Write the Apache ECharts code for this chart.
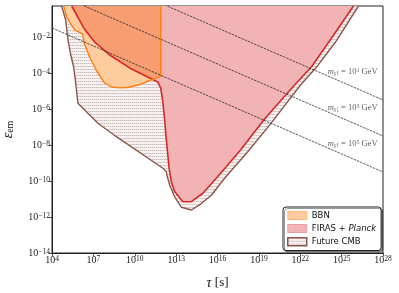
<!DOCTYPE html>
<html><head><meta charset="utf-8">
<script src="https://cdn.jsdelivr.net/npm/echarts@6/dist/echarts.min.js"></script>
<style>html,body{margin:0;padding:0;background:#fff}#c{width:399px;height:293px}</style>
</head><body><div id="c"></div>
<script>
// Values are log10(tau / s) and log10(epsilon_em)
const xTickExps = [4, 7, 10, 13, 16, 19, 22, 25, 28];
const yTickExps = [-14, -12, -10, -8, -6, -4, -2];

const cmbBoundary = [
  [4.70,-0.28],[4.99,-1.06],[5.16,-2.17],[5.33,-2.89],[5.57,-3.67],[5.72,-4.56],[5.88,-5.68],[5.96,-5.78],
  [7.33,-6.79],[8.67,-7.54],[12.04,-9.29],[12.29,-9.48],[12.33,-9.67],[12.53,-10.22],[12.89,-10.87],
  [13.38,-11.46],[14.10,-11.61],[14.70,-11.33],[15.57,-10.78],[16.59,-9.78],[18.18,-8.39],[19.85,-6.83],
  [22.02,-4.67],[23.25,-3.61],[24.56,-2.28],[26.22,-0.28]
];
const firasBoundary = [
  [5.43,-0.28],[5.79,-0.78],[6.30,-1.50],[7.09,-2.28],[8.18,-3.00],[9.63,-3.72],[11.08,-4.28],[11.66,-4.50],
  [11.88,-4.83],[12.02,-5.50],[12.17,-6.61],[12.29,-7.72],[12.48,-9.21],[12.65,-10.04],[12.89,-10.59],
  [13.49,-11.15],[14.10,-11.15],[14.94,-10.68],[16.01,-9.76],[17.67,-8.28],[19.41,-6.56],[21.59,-4.67],
  [22.82,-3.65],[24.27,-2.06],[25.86,-0.28]
];
const bbnBoundary = [
  [4.85,-0.28],[5.07,-0.89],[5.28,-1.17],[5.64,-1.61],[6.22,-1.83],[6.33,-2.33],[6.73,-3.11],[7.24,-3.89],
  [7.82,-4.56],[8.33,-4.78],[8.91,-4.83],[9.49,-4.81],[10.36,-4.64],[11.30,-4.36],[11.88,-4.19],[11.88,-0.28]
];
const massLine1 = [[4, 2.5], [28, -5.5]];
const massLine2 = [[4, 0.5], [28, -7.5]];
const massLine3 = [[4, -1.5], [28, -9.5]];
const massExps = [1, 3, 5];
const massLabelAt = [[25.8, -3.93], [25.8, -5.96], [25.8, -7.94]];

// hatch pattern for the future-CMB region
const hc = document.createElement('canvas');
hc.width = 4; hc.height = 3;
const hx = hc.getContext('2d');
hx.fillStyle = '#f7f2f1'; hx.fillRect(0, 0, 4, 3);
hx.fillStyle = '#c6bcba'; hx.fillRect(0, 0, 1, 1); hx.fillRect(2, 0, 1, 1);
hx.fillStyle = '#e2dad9'; hx.fillRect(1, 0, 1, 1); hx.fillRect(3, 0, 1, 1);
const hatch = { image: hc, repeat: 'repeat' };

const SERIF = 'Liberation Serif';
const fmtExp = v => (v < 0 ? '\u2212' + Math.abs(v) : '' + v);

function polySeries(name, pts, style, z) {
  return {
    type: 'custom', name: name, data: pts, z: z, silent: true, clip: true,
    encode: { x: 0, y: 1 },
    renderItem: function (params, api) {
      if (params.dataIndex !== 0) return null;
      return { type: 'polygon', shape: { points: pts.map(p => api.coord(p)) }, style: style };
    }
  };
}
function edgeSeries(name, pts, color, width, z) {
  return {
    type: 'line', name: name, data: pts, z: z, silent: true, showSymbol: false, symbol: 'none',
    clip: true, lineStyle: { color: color, width: width }, emphasis: { disabled: true }
  };
}
function massSeries(name, pts) {
  return {
    type: 'line', name: name, data: pts, z: 8, silent: true, showSymbol: false, symbol: 'none',
    clip: true, lineStyle: { color: '#222', width: 0.75, type: [2.5, 1] }, emphasis: { disabled: true }
  };
}

const chart = echarts.init(document.getElementById('c'), null, { renderer: 'canvas' });
const labRich = {
  b: { fontFamily: SERIF, fontSize: 10, color: '#222', lineHeight: 10, padding: [3, 0, 0, 0], verticalAlign: 'bottom' },
  s: { fontFamily: SERIF, fontSize: 7.5, color: '#222', lineHeight: 8, verticalAlign: 'top' }
};
chart.setOption({
  animation: false,
  backgroundColor: '#fff',
  grid: { left: 52, right: 16, top: 6, bottom: 40, show: true, borderColor: '#222', borderWidth: 1, backgroundColor: 'transparent', outerBoundsMode: 'none' },
  xAxis: {
    type: 'value', min: 4, max: 28, interval: 3,
    name: '{t|\u03c4} {r|[s]}', nameLocation: 'middle', nameGap: 23,
    nameTextStyle: { rich: { t: { fontFamily: SERIF, fontStyle: 'italic', fontSize: 14, color: '#111' }, r: { fontFamily: SERIF, fontSize: 13, color: '#111' } } },
    axisLine: { show: true, lineStyle: { color: '#222', width: 1 } },
    axisTick: { show: true, inside: false, length: 3.5, lineStyle: { color: '#222', width: 0.8 } },
    splitLine: { show: false },
    axisLabel: { margin: 2, formatter: v => xTickExps.includes(v) ? '{b|10}{s|' + fmtExp(v) + '}' : '', rich: labRich }
  },
  yAxis: {
    type: 'value', min: -14, max: -0.28, interval: 2,
    name: '{e|\u03b5}{s|em}', nameLocation: 'middle', nameGap: 37, nameRotate: 90,
    nameTextStyle: { rich: {
      e: { fontFamily: SERIF, fontStyle: 'italic', fontSize: 14, color: '#111', lineHeight: 14, verticalAlign: 'top' },
      s: { fontFamily: SERIF, fontSize: 10, color: '#111', lineHeight: 10, padding: [5, 0, 0, 0], verticalAlign: 'bottom' } } },
    axisLine: { show: true, lineStyle: { color: '#222', width: 1 } },
    axisTick: { show: true, inside: false, length: 3.5, lineStyle: { color: '#222', width: 0.8 } },
    splitLine: { show: false },
    axisLabel: { margin: 2, showMaxLabel: false, formatter: v => yTickExps.includes(v) ? '{b|10}{s|' + fmtExp(v) + '}' : '', rich: labRich }
  },
  legend: {
    orient: 'vertical', left: 283, top: 207,
    itemWidth: 19, itemHeight: 8, itemGap: 4,
    padding: [4, 5, 4, 4],
    backgroundColor: '#fff', borderColor: '#222', borderWidth: 1, borderRadius: 3,
    shadowColor: 'rgba(0,0,0,0.4)', shadowOffsetX: 1.5, shadowOffsetY: 1.5, shadowBlur: 0,
    selectedMode: false,
    textStyle: { fontFamily: 'DejaVu Sans', fontSize: 8.5, color: '#111',
      rich: { i: { fontFamily: 'DejaVu Sans', fontStyle: 'italic', fontSize: 8.5, color: '#111' } } },
    formatter: n => n === 'FIRAS + Planck' ? 'FIRAS + {i|Planck}' : n,
    data: [
      { name: 'BBN', icon: 'rect', itemStyle: { color: 'rgba(255,127,14,0.4)', borderColor: 'rgba(255,127,14,0.45)', borderWidth: 1 } },
      { name: 'FIRAS + Planck', icon: 'rect', itemStyle: { color: '#f1b3b4', borderColor: '#eaa0a2', borderWidth: 1 } },
      { name: 'Future CMB', icon: 'rect', itemStyle: { color: hatch, borderColor: '#8c564b', borderWidth: 1.5 } }
    ]
  },
  series: [
    polySeries('Future CMB', cmbBoundary, { fill: hatch, stroke: null }, 1),
    polySeries('bbn-under', bbnBoundary, { fill: '#ffffff', stroke: null }, 2),
    polySeries('FIRAS + Planck', firasBoundary, { fill: '#f1b3b4', stroke: null }, 3),
    polySeries('BBN', bbnBoundary, { fill: 'rgba(255,127,14,0.4)', stroke: null }, 4),
    edgeSeries('cmb-edge', cmbBoundary, '#8c564b', 1.4, 5),
    edgeSeries('firas-edge', firasBoundary, '#d62728', 1.6, 6),
    edgeSeries('bbn-edge', bbnBoundary, '#ff7f0e', 1.4, 7),
    massSeries('m1', massLine1),
    massSeries('m3', massLine2),
    massSeries('m5', massLine3),
    {
      type: 'scatter', name: 'mass-labels', data: massLabelAt, symbolSize: 0, z: 9, silent: true,
      label: {
        show: true, position: 'inside',
        formatter: p => '{m|m}{c|\u03c7\u0303}{n|1}{t| = 10}{p|' + massExps[p.dataIndex] + '}{t| GeV}',
        rich: {
          m: { fontFamily: SERIF, fontStyle: 'italic', fontSize: 8.5, color: '#333', lineHeight: 9, padding: [3, 0, 0, 0], verticalAlign: 'bottom' },
          c: { fontFamily: SERIF, fontStyle: 'italic', fontSize: 6, color: '#333', lineHeight: 6, verticalAlign: 'bottom' },
          n: { fontFamily: SERIF, fontSize: 5, color: '#333', lineHeight: 5, verticalAlign: 'bottom' },
          t: { fontFamily: SERIF, fontSize: 8.5, color: '#333', lineHeight: 9, padding: [3, 0, 0, 0], verticalAlign: 'bottom' },
          p: { fontFamily: SERIF, fontSize: 6, color: '#333', lineHeight: 6, verticalAlign: 'top' }
        }
      }
    }
  ]
});
</script></body></html>
